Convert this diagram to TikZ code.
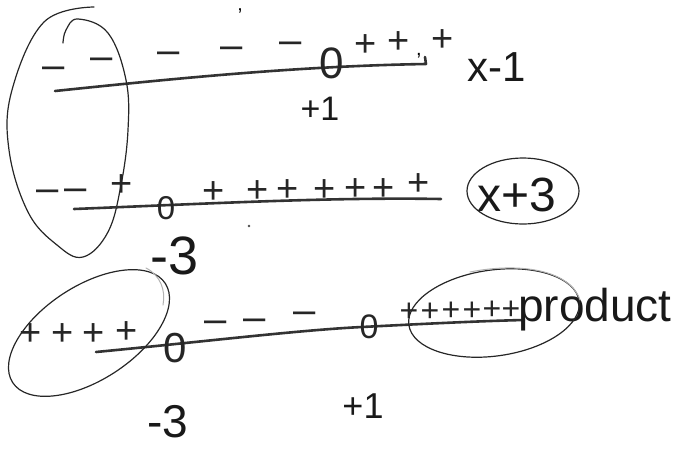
\documentclass[tikz,border=0pt]{standalone}
\usepackage{fontspec}
\setmainfont{Liberation Sans}
\begin{document}
\begin{tikzpicture}[x=1pt,y=-1pt,line cap=round,line join=round,
  numline/.style={line width=2.6pt,black!80},
  ring/.style={line width=1.2pt,black!85},
  faint/.style={line width=1pt,black!30},
  pl/.style={inner sep=0pt,anchor=base,font=\fontsize{38}{38}\selectfont,text=black!85},
  sp/.style={inner sep=0pt,anchor=base,font=\fontsize{32}{32}\selectfont,text=black!85},
  mn/.style={inner sep=0pt,anchor=base,font=\fontsize{40}{40}\selectfont,text=black!85},
  zr/.style={inner sep=0pt,font=\fontsize{#1}{#1}\selectfont,text=black!85},
  lb/.style={inner sep=0pt,font=\fontsize{#1}{#1}\selectfont,text=black!90}]
\useasboundingbox (0,0) rectangle (681,448);

% ---------- row 1 : x-1 ----------
\coordinate (a1) at (55,91);
\coordinate (b1) at (426,64);
\draw[numline] (a1) .. controls (180,78) and (300,66) .. (b1) -- ++(-1,-7);
\node[zr=44] (z1) at (332,63) {0};
\node[mn] (m11) at (54,78) {–};
\node[mn] (m12) at (102,69) {–};
\node[mn] (m13) at (169,63) {–};
\node[mn] (m14) at (232,58) {–};
\node[mn] (m15) at (291,53) {–};
\node[pl] (p11) at (366,56) {+};
\node[pl] (p12) at (399,53) {+};
\node[pl] (p13) at (443,51) {+};
\node[inner sep=0pt,anchor=base,font=\fontsize{20}{20}\selectfont] (c11) at (419,55) {,};
\node[inner sep=0pt,font=\fontsize{20}{20}\selectfont] (t11) at (240,16) {’};
\node[lb=42] (f1) at (497,67) {x-1};
\node[lb=34] (r1) at (320,109) {+1};

% big loop round the left ends of rows 1 and 2
\draw[ring] plot[smooth,tension=0.65] coordinates
  {(94,7) (44,22) (12,90) (9,150) (28,212) (57,245) (83,257) (108,232) (121,185) (128,130) (126,80) (108,33) (78,19) (66,30) (63,43)};

% ---------- row 2 : x+3 ----------
\coordinate (a2) at (74,209);
\coordinate (b2) at (441,199);
\draw[numline] (a2) .. controls (200,204) and (330,197) .. (b2);
\node[zr=33] (z2) at (166,208) {0};
\node[mn] (m21) at (48,201) {–};
\node[mn] (m22) at (76,200) {–};
\node[pl] (p20) at (122,196) {+};
\node[pl] (p21) at (214,203) {+};
\node[pl] (p22) at (258,202) {+};
\node[pl] (p23) at (288,201) {+};
\node[pl] (p24) at (325,201) {+};
\node[pl] (p25) at (356,200) {+};
\node[pl] (p26) at (384,200) {+};
\node[pl] (p27) at (419,195) {+};
\fill[black!70] (249,226) circle (1.3);
\node[lb=54] (r2) at (175,256) {-3};
\node[lb=48] (f2) at (517,195) {x+3};
\draw[ring] (523,191) ellipse [x radius=56,y radius=33];

% ---------- row 3 : product ----------
\coordinate (a3) at (96,352);
\coordinate (b3) at (524,320);
\draw[numline] (a3) .. controls (200,342) and (300,330) .. (362,327) .. controls (420,324) and (480,321) .. (b3);
\node[zr=42] (z31) at (175,348) {0};
\node[zr=34] (z32) at (369,327) {0};
\node[pl] (p31) at (31,345) {+};
\node[pl] (p32) at (63,345) {+};
\node[pl] (p33) at (94,345) {+};
\node[pl] (p34) at (127,343) {+};
\node[mn] (m31) at (216,332) {–};
\node[mn] (m32) at (255,330) {–};
\node[mn] (m33) at (305,323) {–};
\node[sp] (p35) at (409,321) {+};
\node[sp] (p36) at (430,321) {+};
\node[sp] (p37) at (451,320) {+};
\node[sp] (p38) at (472,320) {+};
\node[sp] (p39) at (492,319) {+};
\node[sp] (p40) at (511,319) {+};
\node[lb=46,anchor=base west] (f3) at (518,321) {product};
\node[lb=46] (r31) at (168,422) {-3};
\node[lb=36] (r32) at (363,406) {+1};
\draw[ring] (89,333) ellipse [x radius=91,y radius=47,rotate=33];
\draw[faint] (146,268) .. controls (160,275) and (166,290) .. (163,305);
\draw[ring] (494,313) ellipse [x radius=86,y radius=43,rotate=8];
\draw[faint] (470,272) .. controls (520,262) and (570,270) .. (580,300);
\end{tikzpicture}
\end{document}
